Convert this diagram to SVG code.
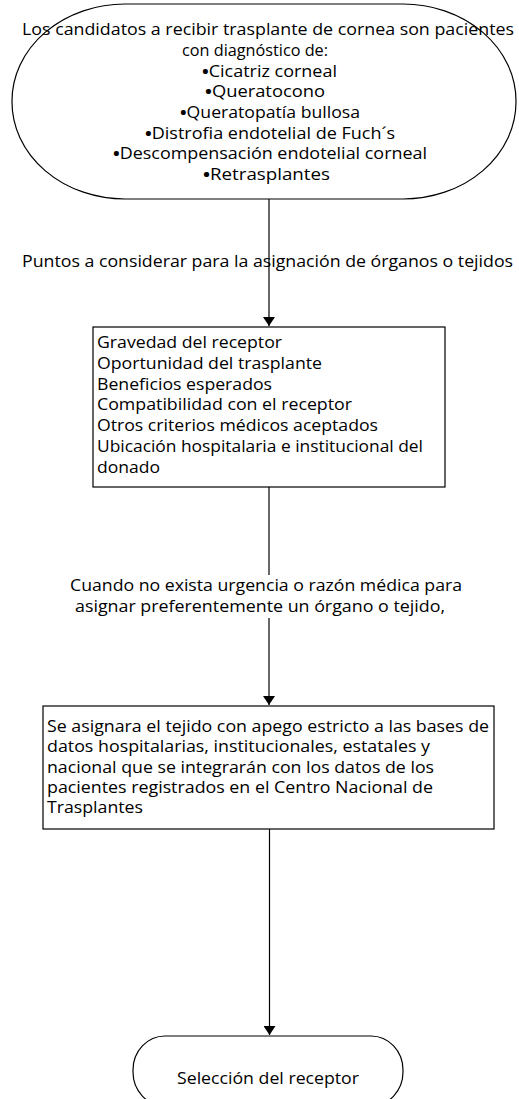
<svg xmlns="http://www.w3.org/2000/svg" width="519" height="1099" viewBox="0 0 519 1099">
<defs>
<marker id="arr" markerWidth="12" markerHeight="12" refX="9" refY="6" orient="auto" markerUnits="userSpaceOnUse">
<path d="M0,0 L9,6 L0,12 Z" fill="#000"/>
</marker>
<style>
text{font-family:"Open Sans","Noto Sans",sans-serif;font-size:16px;fill:#000}
.c{text-anchor:middle}
.b{font-weight:bold}
.shape{fill:#fff;stroke:#000;stroke-width:1.2}
.line{stroke:#000;stroke-width:1.2;fill:none}
</style>
</defs>
<rect width="519" height="1099" fill="#fff"/>
<g id="start">
<rect class="shape" x="12" y="4" width="504" height="195" rx="113" ry="97"/>
<text class="c" x="268" y="35" textLength="492" lengthAdjust="spacingAndGlyphs">Los candidatos a recibir trasplante de cornea son pacientes</text>
<text class="c" x="255" y="56" textLength="146" lengthAdjust="spacingAndGlyphs">con diagnóstico de:</text>
<text class="c" x="269.5" y="77" textLength="135" lengthAdjust="spacingAndGlyphs"><tspan class="b">•</tspan>Cicatriz corneal</text>
<text class="c" x="265" y="97" textLength="120" lengthAdjust="spacingAndGlyphs"><tspan class="b">•</tspan>Queratocono</text>
<text class="c" x="270" y="118" textLength="180" lengthAdjust="spacingAndGlyphs"><tspan class="b">•</tspan>Queratopatía bullosa</text>
<text class="c" x="270" y="139" textLength="250" lengthAdjust="spacingAndGlyphs"><tspan class="b">•</tspan>Distrofia endotelial de Fuch´s</text>
<text class="c" x="270" y="159" textLength="314" lengthAdjust="spacingAndGlyphs"><tspan class="b">•</tspan>Descompensación endotelial corneal</text>
<text class="c" x="266.5" y="180" textLength="127" lengthAdjust="spacingAndGlyphs"><tspan class="b">•</tspan>Retrasplantes</text>
</g>
<g id="criterios">
<rect class="shape" x="93" y="327" width="352" height="160"/>
<text x="97" y="348" textLength="185" lengthAdjust="spacingAndGlyphs">Gravedad del receptor</text>
<text x="97" y="369" textLength="225" lengthAdjust="spacingAndGlyphs">Oportunidad del trasplante</text>
<text x="97" y="390" textLength="175" lengthAdjust="spacingAndGlyphs">Beneficios esperados</text>
<text x="97" y="410" textLength="255" lengthAdjust="spacingAndGlyphs">Compatibilidad con el receptor</text>
<text x="97" y="431" textLength="281" lengthAdjust="spacingAndGlyphs">Otros criterios médicos aceptados</text>
<text x="97" y="452" textLength="326" lengthAdjust="spacingAndGlyphs">Ubicación hospitalaria e institucional del</text>
<text x="97" y="473" textLength="63" lengthAdjust="spacingAndGlyphs">donado</text>
</g>
<g id="asignacion">
<rect class="shape" x="43" y="706" width="451" height="123"/>
<text x="47" y="732" textLength="442" lengthAdjust="spacingAndGlyphs">Se asignara el tejido con apego estricto a las bases de</text>
<text x="47" y="752" textLength="383" lengthAdjust="spacingAndGlyphs">datos hospitalarias, institucionales, estatales y</text>
<text x="47" y="773" textLength="387" lengthAdjust="spacingAndGlyphs">nacional que se integrarán con los datos de los</text>
<text x="47" y="793" textLength="386" lengthAdjust="spacingAndGlyphs">pacientes registrados en el Centro Nacional de</text>
<text x="47" y="813" textLength="96" lengthAdjust="spacingAndGlyphs">Trasplantes</text>
</g>
<g id="fin">
<rect class="shape" x="133" y="1036" width="270" height="70" rx="32" ry="34"/>
<text class="c" x="268" y="1084" textLength="182" lengthAdjust="spacingAndGlyphs">Selección del receptor</text>
</g>
<g id="connectors">
<line class="line" x1="269" y1="199" x2="269" y2="326" marker-end="url(#arr)"/>
<text x="22" y="267" textLength="491" lengthAdjust="spacingAndGlyphs">Puntos a considerar para la asignación de órganos o tejidos</text>
<line class="line" x1="269" y1="487" x2="269" y2="575"/>
<line class="line" x1="269" y1="618" x2="269" y2="705" marker-end="url(#arr)"/>
<text x="70" y="591" textLength="392" lengthAdjust="spacingAndGlyphs">Cuando no exista urgencia o razón médica para</text>
<text x="75" y="612" textLength="370" lengthAdjust="spacingAndGlyphs">asignar preferentemente un órgano o tejido,</text>
<line class="line" x1="269.5" y1="829" x2="269.5" y2="1035" marker-end="url(#arr)"/>
</g>
</svg>
